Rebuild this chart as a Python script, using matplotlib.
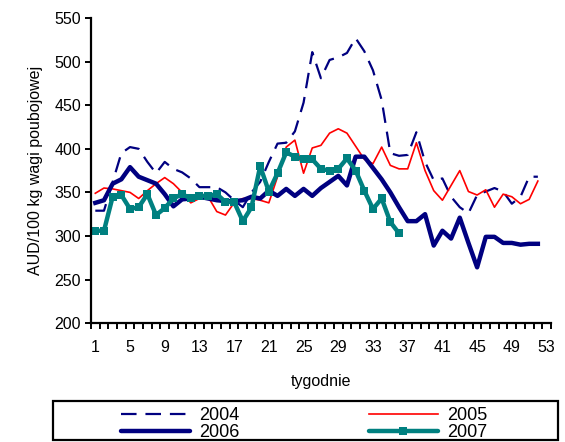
import numpy as np
import matplotlib.pyplot as plt
from matplotlib.lines import Line2D
from matplotlib.patches import Rectangle
from matplotlib.ticker import MultipleLocator, FixedLocator

plt.rcParams['font.family'] = ['Liberation Sans', 'DejaVu Sans']

# ceny tygodniowe, AUD/100 kg wagi poubojowej
w2004 = [329, 329, 362, 395, 402, 400, 385, 372, 385, 377, 373, 366, 356, 356,
         356, 350, 341, 333, 350, 362, 385, 406, 407, 420, 453, 511, 481, 502,
         505, 510, 527, 512, 490, 456, 395, 392, 393, 419, 385, 364, 366, 345,
         333, 326, 347, 351, 355, 351, 337, 345, 368, 368]
w2005 = [349, 355, 354, 352, 350, 343, 352, 360, 367, 360, 350, 338, 343, 345,
         328, 324, 338, 343, 343, 341, 338, 368, 402, 410, 372, 401, 404, 418,
         423, 418, 403, 388, 383, 402, 381, 377, 377, 407, 375, 352, 341, 358,
         375, 351, 347, 353, 333, 348, 345, 337, 342, 363]
w2006 = [338, 341, 360, 365, 379, 368, 364, 360, 348, 334, 342, 343, 345, 343,
         341, 340, 340, 341, 345, 343, 352, 346, 354, 346, 354, 346, 355, 362,
         369, 358, 391, 391, 378, 365, 350, 333, 317, 317, 325, 289, 306, 297,
         321, 292, 264, 299, 299, 292, 292, 290, 291, 291]
w2007 = [306, 306, 345, 347, 331, 333, 348, 324, 332, 343, 348, 343, 346, 346,
         348, 339, 339, 317, 333, 380, 351, 372, 396, 391, 388, 388, 377, 375,
         377, 389, 375, 352, 331, 343, 316, 303]
week_labels = list(range(1, 54, 4))

navy = '#000080'
red = '#FF0000'
teal = '#008080'

fig = plt.figure(figsize=(5.65, 4.42), dpi=100)
ax = fig.add_axes([0.161, 0.269, 0.814, 0.690])

ax.plot(np.arange(1, len(w2004) + 1), w2004, color=navy, lw=1.6,
        dashes=(7, 4))
ax.plot(np.arange(1, len(w2005) + 1), w2005, color=red, lw=1.2)
ax.plot(np.arange(1, len(w2006) + 1), w2006, color=navy, lw=3.2,
        solid_joinstyle='round')
ax.plot(np.arange(1, len(w2007) + 1), w2007, color=teal, lw=3.2,
        marker='s', markersize=6.3, markeredgewidth=0)

ax.set_xlim(0.5, 53.5)
ax.set_ylim(200, 550)
ax.yaxis.set_major_locator(MultipleLocator(50))
ax.xaxis.set_major_locator(FixedLocator(week_labels))
ax.xaxis.set_minor_locator(FixedLocator(np.arange(0.5, 54, 1)))
ax.set_xticklabels([str(w) for w in week_labels])

for s in ['top', 'right']:
    ax.spines[s].set_visible(False)
for s in ['left', 'bottom']:
    ax.spines[s].set_linewidth(1.6)

ax.tick_params(axis='y', direction='out', length=4, width=1.4, pad=3,
               labelsize=11.5)
ax.tick_params(axis='x', which='major', length=0, pad=12, labelsize=11.5)
ax.tick_params(axis='x', which='minor', direction='out', length=4.5,
               width=1.4)

ax.set_ylabel('AUD/100 kg wagi poubojowej', fontsize=11.5, labelpad=8)
ax.set_xlabel('tygodnie', fontsize=11.5, labelpad=14)

# legenda w ramce pod wykresem
fig.patches.append(Rectangle((53 / 565, 2 / 442), 505 / 565, 39 / 442,
                             transform=fig.transFigure, fill=False,
                             edgecolor='black', lw=1.6))
h04 = Line2D([], [], color=navy, lw=1.6, dashes=(7, 4))
h05 = Line2D([], [], color=red, lw=1.2)
h06 = Line2D([], [], color=navy, lw=3.2, solid_capstyle='round')
h07 = Line2D([], [], color=teal, lw=3.2, solid_capstyle='round', marker='s',
             markersize=6.3, markeredgewidth=0)
fig.legend([h04, h06, h05, h07], ['2004', '2006', '2005', '2007'],
           ncol=2, frameon=False, loc='upper left',
           bbox_to_anchor=(121 / 565, 1 - 407 / 442), borderpad=0,
           borderaxespad=0, fontsize=13, handlelength=3.8,
           handletextpad=0.5, labelspacing=0.0, columnspacing=7.2)

fig.savefig('out.png', dpi=100)
